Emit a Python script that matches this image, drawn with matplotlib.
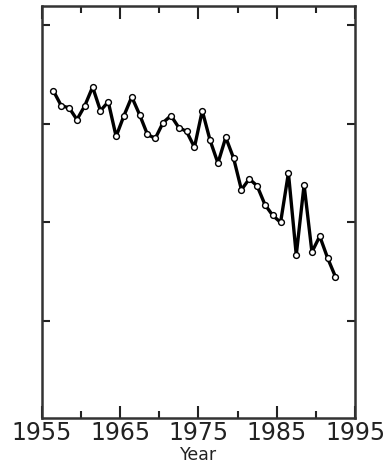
import matplotlib
matplotlib.use("Agg")
import matplotlib.pyplot as plt
from matplotlib.ticker import MultipleLocator

years = [1956.5 + i for i in range(37)]
values = [3.33, 3.18, 3.16, 3.04, 3.18, 3.37, 3.13, 3.22, 2.87, 3.08,
          3.27, 3.09, 2.89, 2.85, 3.01, 3.08, 2.96, 2.92, 2.76, 3.13,
          2.83, 2.60, 2.86, 2.65, 2.33, 2.44, 2.37, 2.18, 2.07, 2.00,
          2.50, 1.67, 2.38, 1.70, 1.86, 1.64, 1.45]
x_ticks = [1955, 1965, 1975, 1985, 1995]
x_ticklabels = ["1955", "1965", "1975", "1985", "1995"]
y_ticks = [1, 2, 3, 4]
x_label = "Year"

plt.rcParams['font.family'] = ['DejaVu Sans']

fig = plt.figure(figsize=(3.88, 4.67), dpi=100)
ax = fig.add_axes([41.7/388, 1 - 418/467, (355 - 41.7)/388, (418 - 6)/467])

ax.plot(years, values, color='black', lw=2.4, marker='o', ms=4.2,
        mfc='white', mec='black', mew=1.0, zorder=3)

ax.set_xlim(1955, 1995)
ax.set_ylim(0.02, 4.19)
ax.set_xticks(x_ticks)
ax.set_xticklabels(x_ticklabels)
ax.xaxis.set_minor_locator(MultipleLocator(5))
ax.set_yticks(y_ticks)
ax.set_yticklabels([])

ax.tick_params(axis='x', which='major', direction='in', length=9, width=1.5,
               top=True, bottom=True, labelsize=17, pad=2, colors='#222222',
               labelcolor='#222222')
ax.tick_params(axis='x', which='minor', direction='in', length=5, width=1.5,
               top=True, bottom=True, colors='#222222')
ax.tick_params(axis='y', which='major', direction='in', length=6, width=1.5,
               left=True, right=True, colors='#222222')

for s in ax.spines.values():
    s.set_linewidth(1.8)
    s.set_color('#333333')

ax.set_xlabel(x_label, fontsize=12.5, labelpad=1, color='#222222')

fig.savefig("out.png", dpi=100)
